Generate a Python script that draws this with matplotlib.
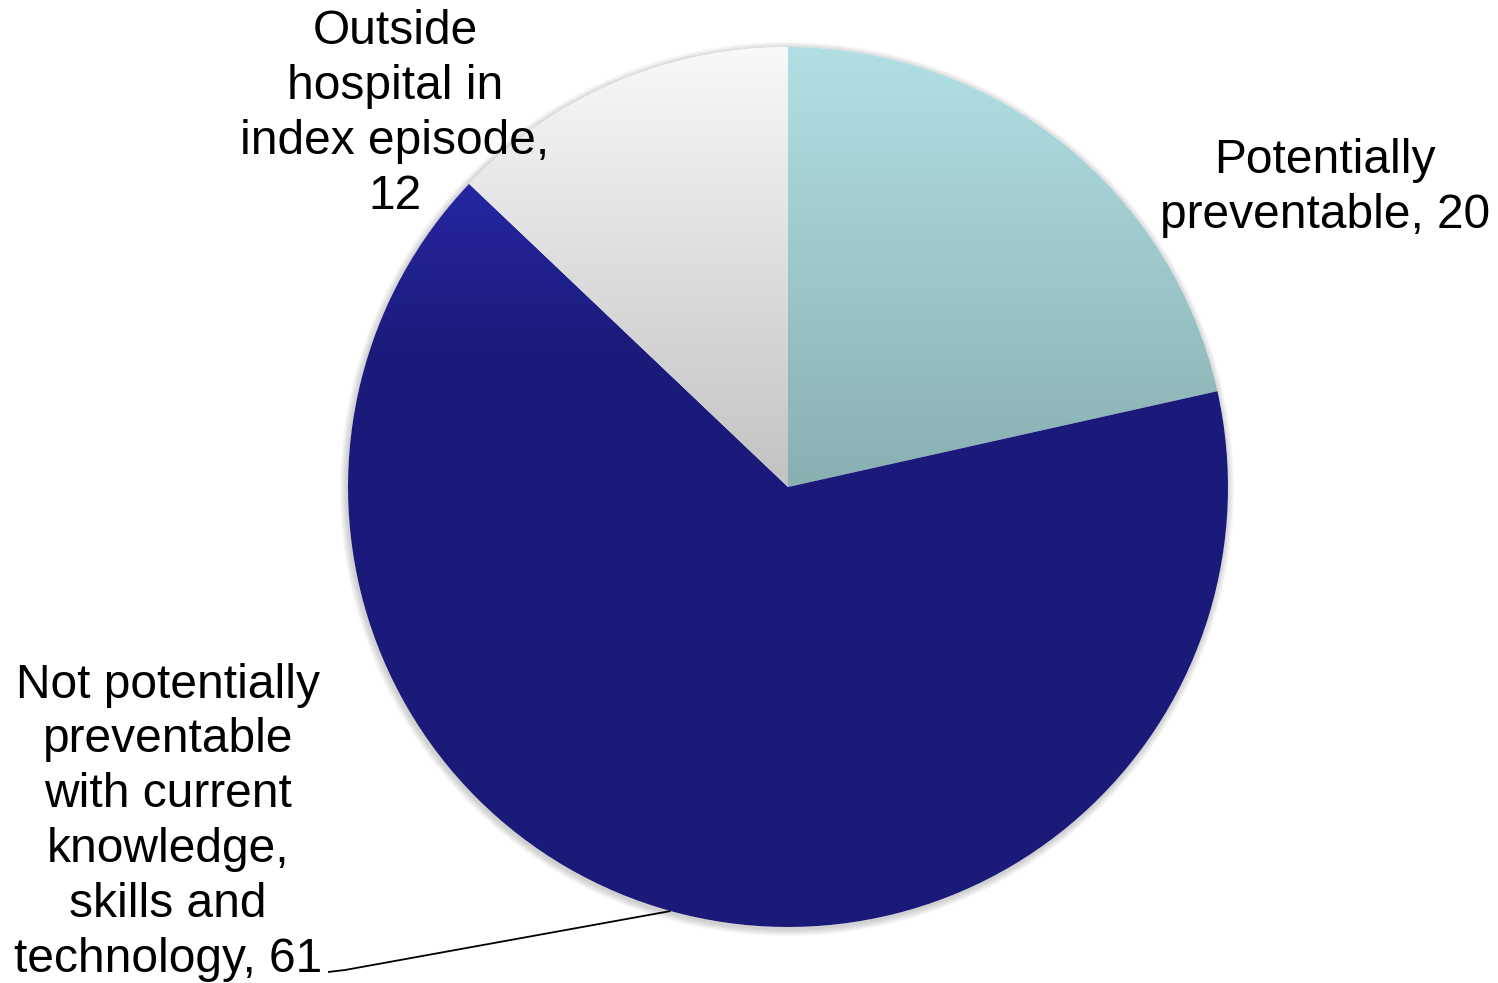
import numpy as np
import matplotlib
matplotlib.use("Agg")
import matplotlib.pyplot as plt
from matplotlib.colors import LinearSegmentedColormap

# Categories and counts
categories = [
    "Potentially\npreventable, 20",
    "Not potentially\npreventable\nwith current\nknowledge,\nskills and\ntechnology, 61",
    "Outside\nhospital in\nindex episode,\n12",
]
counts = [20, 61, 12]

# Vertical gradient stops (top -> bottom) for each slice
gradients = [
    [(0.0, "#b1e0e4"), (1.0, "#89afb1")],
    [(0.0, "#2626a2"), (0.22, "#1b1b7c"), (1.0, "#1a1a78")],
    [(0.0, "#f9f9f9"), (1.0, "#c2c2c2")],
]

W, H = 1498, 983
fig = plt.figure(figsize=(W / 100, H / 100), dpi=100)
ax = fig.add_axes([0, 0, 1, 1])

cx, cy, r = 788, H - 487, 440

wedges, _ = ax.pie(counts, startangle=90, counterclock=False,
                   center=(cx, cy), radius=r, frame=True,
                   wedgeprops=dict(linewidth=0, facecolor="none"))
ax.set_xlim(0, W)
ax.set_ylim(0, H)
ax.set_aspect("auto")
ax.axis("off")

# soft shadow behind the pie
for k in range(6):
    sh = plt.Circle((cx - 1, cy - 2), r + 1 + k * 1.2, color="#000000",
                    alpha=0.03, lw=0, zorder=0.5)
    ax.add_patch(sh)
ax.add_patch(plt.Circle((cx, cy), r, color="white", lw=0, zorder=0.6))

for w, stops in zip(wedges, gradients):
    path = w.get_path()
    verts = w.get_transform().transform(path.vertices)
    verts = ax.transData.inverted().transform(verts)
    ymin, ymax = verts[:, 1].min(), verts[:, 1].max()
    xmin, xmax = verts[:, 0].min(), verts[:, 0].max()
    cmap = LinearSegmentedColormap.from_list("g", stops)
    grad = np.linspace(0, 1, 256).reshape(-1, 1)
    im = ax.imshow(grad, cmap=cmap, aspect="auto",
                   extent=(xmin - 2, xmax + 2, ymin - 2, ymax + 2),
                   origin="upper", zorder=1, interpolation="bilinear")
    im.set_clip_path(w)

# Labels
font = dict(family="Liberation Sans", fontsize=34.5, color="black",
            linespacing=1.28, ha="center", va="center", zorder=3)
ax.text(1325, H - 188, categories[0], **font)
ax.text(395, H - 114, categories[2], **font)
ax.text(168, H - 822, categories[1], **font)

# Leader line for the large slice
theta1, theta2 = wedges[1].theta1, wedges[1].theta2
mid = np.deg2rad((theta1 + theta2) / 2)
ex, ey = cx + r * np.cos(mid), cy + r * np.sin(mid)
ax.plot([328, 345, ex], [H - 972, H - 970, ey], color="black", lw=1.3,
        zorder=3, solid_capstyle="butt")

fig.savefig("out.png", dpi=100, facecolor="white")
